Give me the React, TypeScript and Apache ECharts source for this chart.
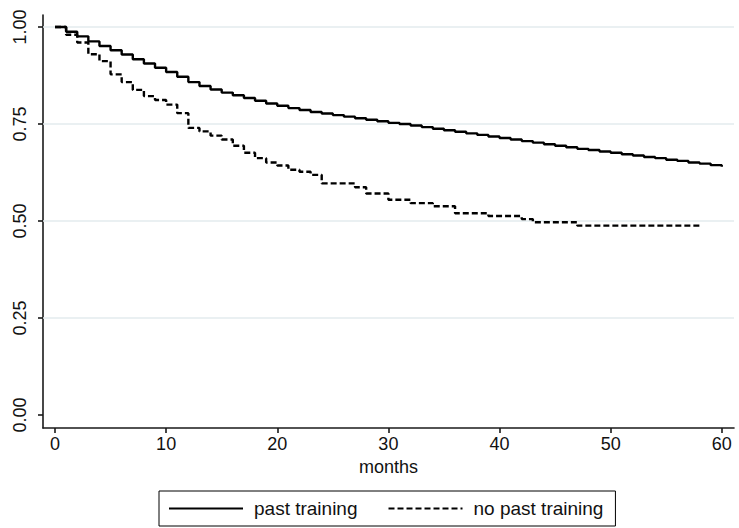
import React, { useEffect, useRef } from "react";
import * as echarts from "echarts";

// Kaplan-Meier survival estimates
const pastTimes = [
  0, 1, 2, 3, 4, 5, 6, 7, 8, 9, 10, 11, 12, 13, 14, 15, 16, 17, 18, 19, 20,
  21, 22, 23, 24, 25, 26, 27, 28, 29, 30, 31, 32, 33, 34, 35, 36, 37, 38, 39, 40,
  41, 42, 43, 44, 45, 46, 47, 48, 49, 50, 51, 52, 53, 54, 55, 56, 57, 58, 59, 60,
];
const pastSurvival = [
  1.0, 0.988, 0.976, 0.963, 0.951, 0.94, 0.929, 0.917, 0.906, 0.895, 0.884,
  0.872, 0.858, 0.848, 0.839, 0.831, 0.824, 0.817, 0.81, 0.803, 0.797,
  0.791, 0.786, 0.781, 0.777, 0.773, 0.769, 0.765, 0.761, 0.757, 0.753,
  0.75, 0.746, 0.742, 0.738, 0.734, 0.73, 0.726, 0.722, 0.718, 0.714,
  0.71, 0.706, 0.702, 0.698, 0.694, 0.69, 0.686, 0.683, 0.679, 0.676,
  0.672, 0.669, 0.665, 0.662, 0.658, 0.655, 0.651, 0.648, 0.644, 0.64,
];

const noPastTimes = [
  0, 1, 2, 3, 4, 5, 6, 7, 8, 9, 10, 11, 12, 13, 14, 15, 16, 17, 18, 19, 20,
  21, 22, 23, 24, 27, 28, 30, 32, 34, 36, 39, 42, 43, 47, 58,
];
const noPastSurvival = [
  1.0, 0.98, 0.96, 0.93, 0.912, 0.878, 0.858, 0.838, 0.822, 0.812, 0.8,
  0.778, 0.74, 0.731, 0.72, 0.71, 0.694, 0.676, 0.662, 0.651, 0.643,
  0.632, 0.627, 0.619, 0.597, 0.587, 0.571, 0.555, 0.546, 0.538, 0.52,
  0.513, 0.505, 0.497, 0.488, 0.488,
];

const xTicks = [0, 10, 20, 30, 40, 50, 60];
const yTicks = [0, 0.25, 0.5, 0.75, 1];
const gridLevels = [0.25, 0.5, 0.75, 1];

const seriesNames = ["past training", "no past training"];
const xAxisTitle = "months";

const FONT = "'Liberation Sans', Arial, Helvetica, sans-serif";
const TEXT = "#111";
const AXIS = "#1a1a1a";

export default function App() {
  const ref = useRef<HTMLDivElement>(null);

  useEffect(() => {
    document.body.style.margin = "0";
    if (!ref.current) return;
    const chart = echarts.init(ref.current, undefined, { renderer: "svg" });

    const pastData = pastTimes.map((t, i) => [t, pastSurvival[i]]);
    const noPastData = noPastTimes.map((t, i) => [t, noPastSurvival[i]]);

    chart.setOption({
      animation: false,
      backgroundColor: "#fff",
      grid: { left: 43, right: 5, top: 15, bottom: 100, containLabel: false },
      xAxis: {
        type: "value",
        min: -1.08,
        max: 61.1,
        name: xAxisTitle,
        nameLocation: "middle",
        nameGap: 30,
        nameTextStyle: { fontFamily: FONT, fontSize: 18, color: TEXT },
        axisLine: { onZero: false, lineStyle: { color: AXIS, width: 1.6 } },
        axisTick: {
          show: true,
          inside: false,
          length: 5,
          customValues: xTicks,
          lineStyle: { color: AXIS, width: 1.6 },
        },
        axisLabel: {
          customValues: xTicks,
          margin: 7,
          fontFamily: FONT,
          fontSize: 18,
          color: TEXT,
        },
        splitLine: { show: false },
      },
      yAxis: {
        type: "value",
        min: -0.0335,
        max: 1.031,
        axisLine: { show: true, onZero: false, lineStyle: { color: AXIS, width: 1.6 } },
        axisTick: {
          show: true,
          inside: false,
          length: 5,
          customValues: yTicks,
          lineStyle: { color: AXIS, width: 1.6 },
        },
        axisLabel: {
          customValues: yTicks,
          rotate: 90,
          margin: 14,
          fontFamily: FONT,
          fontSize: 18,
          color: TEXT,
          formatter: (v: number) => v.toFixed(2),
        },
        splitLine: { show: false },
      },
      legend: {
        data: seriesNames,
        left: 159,
        top: 491,
        orient: "horizontal",
        borderColor: "#000",
        borderWidth: 1,
        borderRadius: 0,
        padding: [8, 12, 8, 9],
        itemWidth: 74,
        itemHeight: 20,
        itemGap: 30,
        itemStyle: { color: "rgba(0,0,0,0)", borderWidth: 0, opacity: 0 },
        textStyle: {
          fontFamily: FONT,
          fontSize: 19,
          color: TEXT,
          padding: [0, 0, 0, 6],
        },
      },
      series: [
        {
          name: "gridlines",
          type: "line",
          data: [],
          z: 1,
          silent: true,
          markLine: {
            silent: true,
            z: 1,
            symbol: "none",
            label: { show: false },
            lineStyle: { color: "#e3ebee", width: 1.6, type: "solid" },
            data: gridLevels.map((v) => ({ yAxis: v })),
          },
        },
        {
          name: seriesNames[0],
          type: "line",
          step: "end",
          symbol: "none",
          z: 3,
          data: pastData,
          lineStyle: { color: "#000", width: 2.4, type: "solid" },
          itemStyle: { color: "#000" },
        },
        {
          name: seriesNames[1],
          type: "line",
          step: "end",
          symbol: "none",
          z: 2,
          data: noPastData,
          lineStyle: { color: "#000", width: 2.4, type: [6, 3] },
          itemStyle: { color: "#000" },
        },
      ],
    });

    return () => chart.dispose();
  }, []);

  return <div ref={ref} style={{ width: 739, height: 528, background: "#fff" }} />;
}
